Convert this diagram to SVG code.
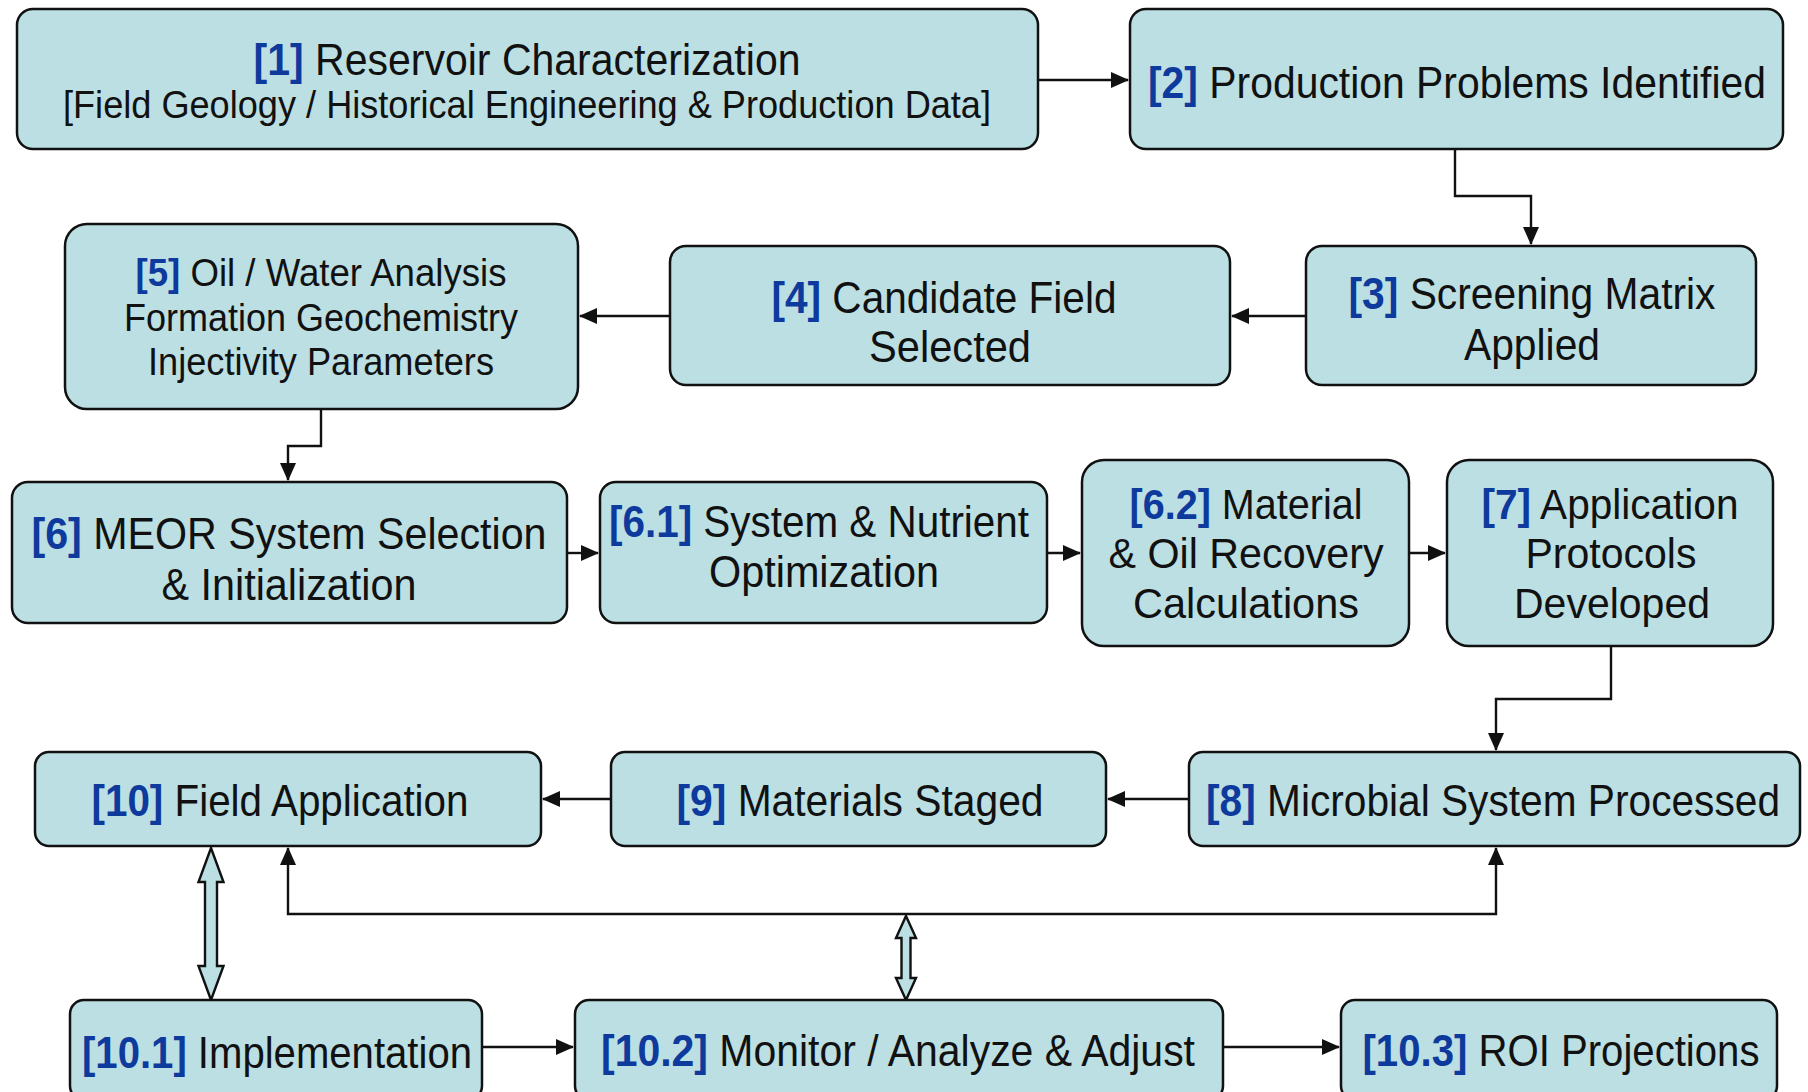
<svg xmlns="http://www.w3.org/2000/svg" width="1808" height="1092" viewBox="0 0 1808 1092">
<style>
.box{fill:#BBDFE2;stroke:#111;stroke-width:2.5}
.t{font-family:"Liberation Sans",Arial,sans-serif;font-size:44px;fill:#111;text-anchor:middle}
.m{font-size:42px}
.s{font-size:38px}
.b{fill:#0D3A9C;font-weight:bold}
.c{fill:none;stroke:#111;stroke-width:2.4}
.dbl{fill:#BBDFE2;stroke:#111;stroke-width:2.4;stroke-linejoin:miter}
</style>
<defs>
<marker id="ah" markerUnits="userSpaceOnUse" markerWidth="18" markerHeight="18" viewBox="0 0 18 18" refX="17" refY="9" orient="auto-start-reverse">
<path d="M0,1 L18,9 L0,17 Z" fill="#111"/>
</marker>
</defs>
<rect width="1808" height="1092" fill="#fff"/>
<g id="connectors">
<path class="c" d="M1038,80 H1128" marker-end="url(#ah)"/>
<path class="c" d="M1455,149 V196 H1531 V244" marker-end="url(#ah)"/>
<path class="c" d="M1306,316 H1232" marker-end="url(#ah)"/>
<path class="c" d="M670,316 H580" marker-end="url(#ah)"/>
<path class="c" d="M321,409 V446 H288 V480" marker-end="url(#ah)"/>
<path class="c" d="M567,553 H598" marker-end="url(#ah)"/>
<path class="c" d="M1047,553 H1080" marker-end="url(#ah)"/>
<path class="c" d="M1409,553 H1445" marker-end="url(#ah)"/>
<path class="c" d="M1611,646 V699 H1496 V750" marker-end="url(#ah)"/>
<path class="c" d="M1189,799 H1108" marker-end="url(#ah)"/>
<path class="c" d="M611,799 H543" marker-end="url(#ah)"/>
<path class="c" d="M288,848 V914 H1496 V848" marker-start="url(#ah)" marker-end="url(#ah)"/>
<path class="c" d="M482,1047 H573" marker-end="url(#ah)"/>
<path class="c" d="M1223,1047 H1339" marker-end="url(#ah)"/>
<polygon class="dbl" points="211,848 223.5,882 217,882 217,966 223.5,966 211,1000 198.5,966 205,966 205,882 198.5,882"/>
<polygon class="dbl" points="906,916 916,938 910.5,938 910.5,978 916,978 906,1000 896,978 901.5,978 901.5,938 896,938"/>
</g>
<g id="n1"><rect class="box" x="17" y="9" width="1021" height="140" rx="16"/>
<text class="t" x="527" y="75" textLength="547" lengthAdjust="spacingAndGlyphs"><tspan class="b">[1]</tspan> Reservoir Characterization</text>
<text class="t s" x="527" y="118" textLength="928" lengthAdjust="spacingAndGlyphs">[Field Geology / Historical Engineering &amp; Production Data]</text></g>
<g id="n2"><rect class="box" x="1130" y="9" width="653" height="140" rx="16"/>
<text class="t" x="1457" y="98" textLength="618" lengthAdjust="spacingAndGlyphs"><tspan class="b">[2]</tspan> Production Problems Identified</text></g>
<g id="n3"><rect class="box" x="1306" y="246" width="450" height="139" rx="16"/>
<text class="t" x="1532" y="309" textLength="367" lengthAdjust="spacingAndGlyphs"><tspan class="b">[3]</tspan> Screening Matrix</text>
<text class="t" x="1532" y="360" textLength="136" lengthAdjust="spacingAndGlyphs">Applied</text></g>
<g id="n4"><rect class="box" x="670" y="246" width="560" height="139" rx="16"/>
<text class="t" x="944" y="313" textLength="345" lengthAdjust="spacingAndGlyphs"><tspan class="b">[4]</tspan> Candidate Field</text>
<text class="t" x="950" y="362" textLength="162" lengthAdjust="spacingAndGlyphs">Selected</text></g>
<g id="n5"><rect class="box" x="65" y="224" width="513" height="185" rx="22"/>
<text class="t s" x="321" y="286" textLength="371" lengthAdjust="spacingAndGlyphs"><tspan class="b">[5]</tspan> Oil / Water Analysis</text>
<text class="t s" x="321" y="331" textLength="394" lengthAdjust="spacingAndGlyphs">Formation Geochemistry</text>
<text class="t s" x="321" y="375" textLength="346" lengthAdjust="spacingAndGlyphs">Injectivity Parameters</text></g>
<g id="n6"><rect class="box" x="12" y="482" width="555" height="141" rx="16"/>
<text class="t" x="289" y="549" textLength="515" lengthAdjust="spacingAndGlyphs"><tspan class="b">[6]</tspan> MEOR System Selection</text>
<text class="t" x="289" y="600" textLength="255" lengthAdjust="spacingAndGlyphs">&amp; Initialization</text></g>
<g id="n61"><rect class="box" x="600" y="482" width="447" height="141" rx="16"/>
<text class="t" x="819" y="537" textLength="420" lengthAdjust="spacingAndGlyphs"><tspan class="b">[6.1]</tspan> System &amp; Nutrient</text>
<text class="t" x="824" y="587" textLength="230" lengthAdjust="spacingAndGlyphs">Optimization</text></g>
<g id="n62"><rect class="box" x="1082" y="460" width="327" height="186" rx="22"/>
<text class="t m" x="1246" y="519" textLength="233" lengthAdjust="spacingAndGlyphs"><tspan class="b">[6.2]</tspan> Material</text>
<text class="t m" x="1246" y="568" textLength="275" lengthAdjust="spacingAndGlyphs">&amp; Oil Recovery</text>
<text class="t m" x="1246" y="618" textLength="226" lengthAdjust="spacingAndGlyphs">Calculations</text></g>
<g id="n7"><rect class="box" x="1447" y="460" width="326" height="186" rx="22"/>
<text class="t m" x="1610" y="519" textLength="257" lengthAdjust="spacingAndGlyphs"><tspan class="b">[7]</tspan> Application</text>
<text class="t m" x="1611" y="568" textLength="171" lengthAdjust="spacingAndGlyphs">Protocols</text>
<text class="t m" x="1612" y="618" textLength="196" lengthAdjust="spacingAndGlyphs">Developed</text></g>
<g id="n8"><rect class="box" x="1189" y="752" width="611" height="94" rx="14"/>
<text class="t" x="1493" y="816" textLength="574" lengthAdjust="spacingAndGlyphs"><tspan class="b">[8]</tspan> Microbial System Processed</text></g>
<g id="n9"><rect class="box" x="611" y="752" width="495" height="94" rx="14"/>
<text class="t" x="860" y="816" textLength="367" lengthAdjust="spacingAndGlyphs"><tspan class="b">[9]</tspan> Materials Staged</text></g>
<g id="n10"><rect class="box" x="35" y="752" width="506" height="94" rx="14"/>
<text class="t" x="280" y="816" textLength="377" lengthAdjust="spacingAndGlyphs"><tspan class="b">[10]</tspan> Field Application</text></g>
<g id="n101"><rect class="box" x="70" y="1000" width="412" height="100" rx="14"/>
<text class="t" x="277" y="1068" textLength="390" lengthAdjust="spacingAndGlyphs"><tspan class="b">[10.1]</tspan> Implementation</text></g>
<g id="n102"><rect class="box" x="575" y="1000" width="648" height="100" rx="14"/>
<text class="t" x="898" y="1066" textLength="594" lengthAdjust="spacingAndGlyphs"><tspan class="b">[10.2]</tspan> Monitor / Analyze &amp; Adjust</text></g>
<g id="n103"><rect class="box" x="1341" y="1000" width="436" height="100" rx="14"/>
<text class="t" x="1561" y="1066" textLength="397" lengthAdjust="spacingAndGlyphs"><tspan class="b">[10.3]</tspan> ROI Projections</text></g>
</svg>
